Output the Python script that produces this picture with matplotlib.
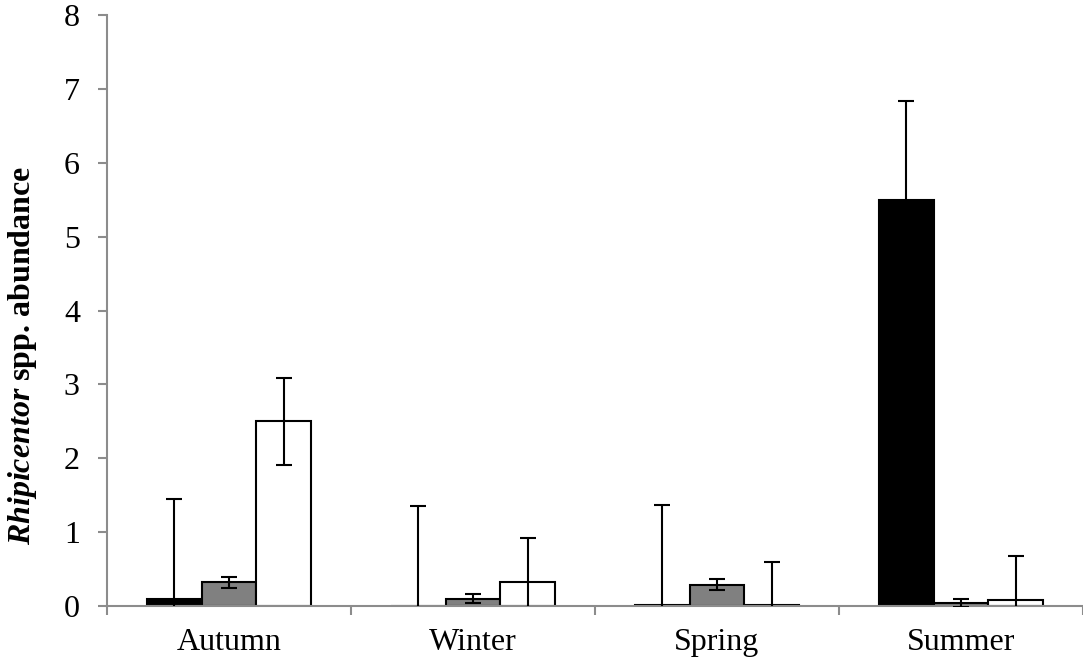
import matplotlib
matplotlib.use("Agg")
import matplotlib.pyplot as plt
import numpy as np

plt.rcParams['font.family'] = ['Liberation Serif', 'DejaVu Serif']
plt.rcParams['mathtext.fontset'] = 'custom'
plt.rcParams['mathtext.rm'] = 'Liberation Serif'
plt.rcParams['mathtext.it'] = 'Liberation Serif:italic'
plt.rcParams['mathtext.bf'] = 'Liberation Serif:bold'
plt.rcParams['mathtext.bfit'] = 'Liberation Serif:italic:bold'

seasons = ['Autumn', 'Winter', 'Spring', 'Summer']
black_vals = [0.09, 0.0, 0.02, 5.49]
black_err = [1.36, 1.36, 1.35, 1.34]
gray_vals = [0.32, 0.10, 0.29, 0.04]
gray_err = [0.07, 0.06, 0.07, 0.05]
white_vals = [2.50, 0.33, 0.02, 0.08]
white_err = [0.59, 0.59, 0.57, 0.60]
yticks = [0, 1, 2, 3, 4, 5, 6, 7, 8]

fig = plt.figure(figsize=(10.83, 6.63), dpi=100)
ax = fig.add_axes([107/1083, 57/663, 976/1083, 591/663])

x = np.arange(len(seasons))
w = 0.224
axis_col = '#8c8c8c'
series = [(black_vals, black_err, 'black'), (gray_vals, gray_err, '#808080'), (white_vals, white_err, 'white')]
for i, (vals, errs, col) in enumerate(series):
    pos = x + (i - 1) * w
    ax.bar(pos, vals, width=w, color=col, edgecolor='black', linewidth=1.5, zorder=2)
    ax.errorbar(pos, vals, yerr=errs, fmt='none', ecolor='black', elinewidth=1.5,
                capsize=5.5, capthick=1.5, zorder=3)

ax.set_ylim(0, 8)
ax.set_xlim(-0.5, 3.47)
ax.set_yticks(yticks)
ax.set_xticks(np.arange(len(seasons) + 1) - 0.5)
ax.set_xticklabels([])
ax.set_xticks(x, minor=True)
ax.set_xticklabels(seasons, minor=True)
ax.tick_params(axis='x', which='minor', length=0, labelsize=23, pad=15.5)
ax.tick_params(axis='x', which='major', length=6.5, width=1.5, color=axis_col)
ax.tick_params(axis='y', length=6.5, width=1.5, color=axis_col, labelsize=23, pad=13)

for s in ['top', 'right']:
    ax.spines[s].set_visible(False)
for s in ['left', 'bottom']:
    ax.spines[s].set_color(axis_col)
    ax.spines[s].set_linewidth(1.5)

fig.text(23/1083, 1 - 355/663, r'$\mathbfit{Rhipicentor}$ spp. abundance', fontsize=23,
         fontweight='bold', rotation=90, ha='center', va='center')

fig.savefig('out.png', dpi=100)
